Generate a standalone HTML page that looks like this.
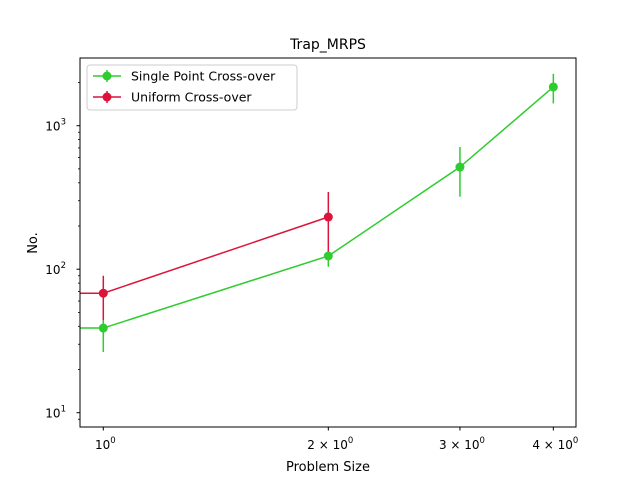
<!DOCTYPE html>
<html><head><meta charset="utf-8"><style>
body{margin:0;background:#fff;}
svg{display:block;font-family:"DejaVu Sans","Liberation Sans",sans-serif;}
</style></head><body>
<svg id="chart" width="640" height="480">
<rect width="640" height="480" fill="#fff"/>
<text x="328" y="49" font-size="14" text-anchor="middle">Trap_MRPS</text>
<defs><clipPath id="pc"><rect x="80" y="58" width="496" height="369"/></clipPath></defs>
<g id="marks" clip-path="url(#pc)"></g>
<rect x="80" y="58" width="496" height="369" fill="none" stroke="#000" stroke-width="1"/>
<g id="axes"></g>
<text x="328" y="471" font-size="13" text-anchor="middle">Problem Size</text>
<text transform="translate(37,243) rotate(-90)" font-size="13" text-anchor="middle">No.</text>
<g>
<rect x="87" y="65" width="210" height="45" rx="3" fill="#fff" stroke="#ccc"/>
<g>
<line x1="93" y1="76" x2="121" y2="76" stroke="#2ecc2e" stroke-width="1.5"/><line x1="107" y1="70" x2="107" y2="82" stroke="#2ecc2e" stroke-width="1.5"/><circle cx="107" cy="76" r="4.5" fill="#2ecc2e"/>
<text x="131" y="80.5" font-size="12.5">Single Point Cross-over</text></g>
<g>
<line x1="93" y1="97" x2="121" y2="97" stroke="#dc143c" stroke-width="1.5"/><line x1="107" y1="91" x2="107" y2="103" stroke="#dc143c" stroke-width="1.5"/><circle cx="107" cy="97" r="4.5" fill="#dc143c"/>
<text x="131" y="101.5" font-size="12.5">Uniform Cross-over</text></g>
</g>
</svg>
<script>
const sizes=[1,2,3,4];
const greenVals=[38.9,123.6,515,1862];
const greenLo=[26.5,104,320,1430];
const greenHi=[44,128,710,2300];
const redSizes=[1,2];
const redVals=[68,231];
const redLo=[44,120];
const redHi=[90,345];
const xTickVals=[1,2,3,4];
const xTickLabels=["10","2 × 10","3 × 10","4 × 10"];
const yTickVals=[10,100,1000];
const yTickLabels=["10","10","10"];
const yTickExps=["1","2","3"];

const NS="http://www.w3.org/2000/svg";
function X(v){return 103.3+Math.log10(v)*747.5;}
function Y(v){return 412.7-(Math.log10(v)-1)*143.5;}
function mk(tag,attrs,parent){const e=document.createElementNS(NS,tag);for(const k in attrs)e.setAttribute(k,attrs[k]);parent.appendChild(e);return e;}
const marks=document.getElementById('marks'),axes=document.getElementById('axes');

function series(xs,vals,lo,hi,color,name){
  const g=mk('g',{},marks);
  
  
  let pts=[[70,Y(vals[0])]];
  xs.forEach((x,i)=>pts.push([X(x),Y(vals[i])]));
  const pl=mk('polyline',{points:pts.map(p=>p.join(',')).join(' '),fill:'none',stroke:color,'stroke-width':1.5},g);
  
  
  xs.forEach((x,i)=>{
    const l=mk('line',{x1:X(x),x2:X(x),y1:Y(lo[i]),y2:Y(hi[i]),stroke:color,'stroke-width':1.5},g);
    
    
    const c=mk('circle',{cx:X(x),cy:Y(vals[i]),r:4.5,fill:color},g);
    
    
  });
}
series(redSizes,redVals,redLo,redHi,'#dc143c','uniform');
series(sizes,greenVals,greenLo,greenHi,'#2ecc2e','single-point');

xTickVals.forEach((v,i)=>{
  const x=X(v);
  const t=mk('line',{x1:x,x2:x,y1:427,y2:430.5,stroke:'#000'},axes);
  
  
  const tx=mk('text',{x:x+2,y:449,'font-size':12,'text-anchor':'middle'},axes);
  
  
  tx.textContent=xTickLabels[i];
  const s=mk('tspan',{dy:-6,'font-size':8.5},tx);s.textContent='0';
});
yTickVals.forEach((v,i)=>{
  const y=Y(v);
  const t=mk('line',{x1:76.5,x2:80,y1:y,y2:y,stroke:'#000'},axes);
  
  
  const tx=mk('text',{x:66,y:y+5,'font-size':12,'text-anchor':'end'},axes);
  
  
  tx.textContent=yTickLabels[i];
  const s=mk('tspan',{dy:-6,'font-size':8.5},tx);s.textContent=yTickExps[i];
});
[9,20,30,40,50,60,70,80,90,200,300,400,500,600,700,800,900,2000].forEach(v=>{
  const y=Y(v);if(y<58||y>427)return;
  const t=mk('line',{x1:78,x2:80,y1:y,y2:y,stroke:'#000','stroke-width':0.8},axes);
  
  
});
</script>
</body></html>
